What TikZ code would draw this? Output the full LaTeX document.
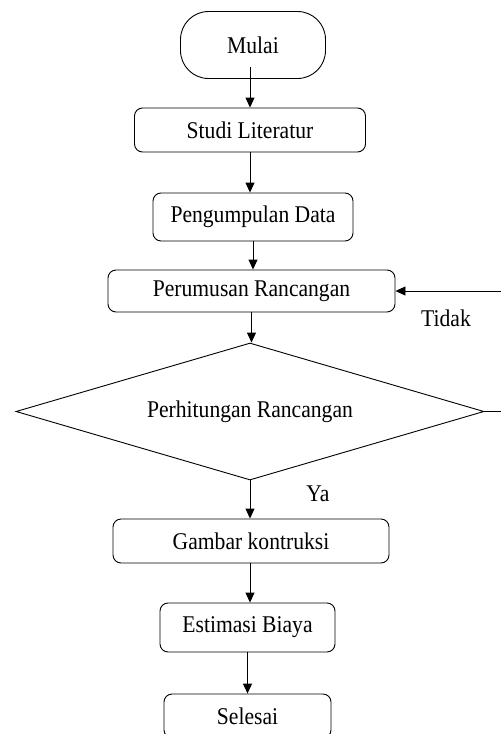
\documentclass[tikz,border=0pt]{standalone}
\usepackage{fontspec}
\setmainfont{Liberation Serif}[FakeStretch=0.9]
\usetikzlibrary{shapes.geometric,arrows.meta}

\tikzset{
  prosesbox/.style={draw, rounded corners=8pt, line width=0.9pt, inner sep=0pt},
  terminal/.style={draw, rounded corners=28pt, line width=0.9pt, inner sep=0pt},
  keputusan/.style={draw, diamond, aspect=3.4, inner sep=0pt, line width=0.9pt},
  panah/.style={-{Triangle[length=10pt,width=9pt]}, line width=0.9pt},
  label/.style={inner sep=0pt}
}

\begin{document}
\begin{tikzpicture}[x=1pt,y=-1pt,font=\fontsize{24}{28}\selectfont]
\useasboundingbox[fill=white] (0,0) rectangle (501,734);

\node[terminal, minimum width=145pt, minimum height=67pt] (mulai) at (253,45) {Mulai};
\node[prosesbox, minimum width=231pt, minimum height=44pt] (studi) at (250,130) {Studi Literatur};
\node[prosesbox, minimum width=200pt, minimum height=48pt] (kumpul) at (253,217) {Pengumpulan Data};
\node[prosesbox, minimum width=287pt, minimum height=42pt] (rumus) at (251.5,291) {Perumusan Rancangan};
\node[keputusan, minimum width=468pt, minimum height=137pt] (hitung) at (250,411.5) {Perhitungan Rancangan};
\node[prosesbox, minimum width=276pt, minimum height=44pt] (gambar) at (251,541) {Gambar kontruksi};
\node[prosesbox, minimum width=175pt, minimum height=49pt] (estimasi) at (247.5,627.5) {Estimasi Biaya};
\node[prosesbox, minimum width=167pt, minimum height=44pt] (selesai) at (247.5,716) {Selesai};

\node[label] (tidak) at (446,318) {Tidak};
\node[label] (ya) at (318,494) {Ya};

\coordinate (kanan1) at (501,291);
\coordinate (kanan2) at (501,411.5);

% alur utama
\draw[panah] ([xshift=-3pt,yshift=12pt]mulai.south) -- ([xshift=-3pt]mulai.south |- studi.north);
\draw[panah] (studi.south) -- (studi.south |- kumpul.north);
\draw[panah] (kumpul.south) -- (kumpul.south |- rumus.north);
\draw[panah] (rumus.south) -- (rumus.south |- hitung.north);
\draw[panah] (hitung.south) -- (hitung.south |- gambar.north);
\draw[panah] (hitung.south |- gambar.south) -- (hitung.south |- estimasi.north);
\draw[panah] (estimasi.south) -- (estimasi.south |- selesai.north);

% kembali jika tidak
\draw[line width=0.9pt] (hitung.east) -- (kanan2);
\draw[panah] (kanan1) -- (rumus.east);

\end{tikzpicture}
\end{document}
